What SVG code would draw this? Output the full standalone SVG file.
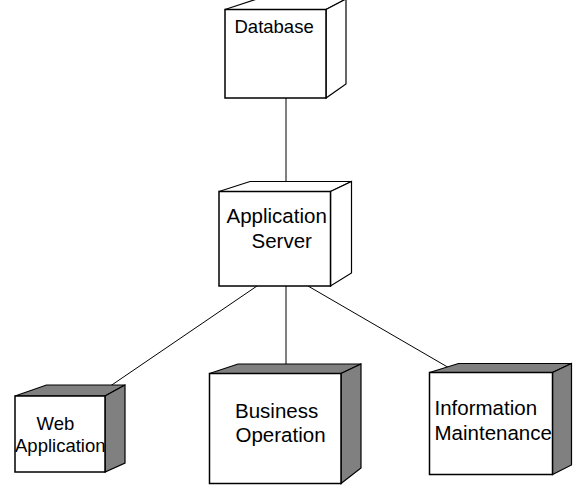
<svg xmlns="http://www.w3.org/2000/svg" width="573" height="486" viewBox="0 0 573 486">
<style>
.face{fill:#ffffff;stroke:#000000;stroke-width:1.5;stroke-linejoin:miter}
.shade{fill:#808080;stroke:#000000;stroke-width:1.2;stroke-linejoin:miter}
.plain{fill:#ffffff;stroke:#000000;stroke-width:1.2;stroke-linejoin:miter}
.conn{stroke:#000000;stroke-width:1;fill:none}
text{font-family:"Liberation Sans",Arial,sans-serif;fill:#000000}
.t20{font-size:20.5px}
.t18{font-size:18.5px}
</style>
<rect width="573" height="486" fill="#ffffff"/>
<g id="connectors">
<line class="conn" x1="286" y1="98" x2="286" y2="186"/>
<line class="conn" x1="286" y1="286" x2="286" y2="368"/>
<line class="conn" x1="257" y1="286" x2="101.5" y2="392"/>
<line class="conn" x1="308" y1="286" x2="451" y2="369"/>
</g>
<g id="database">
<polygon class="plain" points="225,9.5 257,-1 346,-1 326,9.5"/>
<polygon class="plain" points="326,9.5 346,-1 346,84 326,98"/>
<rect class="face" x="225" y="9.5" width="101" height="88.5"/>
<text class="t18" x="234.5" y="33">Database</text>
</g>
<g id="application-server">
<polygon class="plain" points="219,191.5 250,181.5 351.5,181.5 330.5,191.5"/>
<polygon class="plain" points="330.5,191.5 351.5,181.5 351.5,273 330.5,286"/>
<rect class="face" x="219" y="191.5" width="111.5" height="94.5"/>
<text class="t20" x="226.5" y="223">Application</text>
<text class="t20" x="251.5" y="248">Server</text>
</g>
<g id="web-application">
<polygon class="shade" points="15,396 46.5,385 125,385 105,396"/>
<polygon class="shade" points="105,396 125,385 125,463 105,472"/>
<rect class="face" x="15" y="396" width="90" height="76"/>
<text class="t18" x="36.5" y="430">Web</text>
<text class="t18" x="15" y="452">Application</text>
</g>
<g id="business-operation">
<polygon class="shade" points="209.5,373.5 238,364 361,364 341,373.5"/>
<polygon class="shade" points="341,373.5 361,364 361,468 341,483.5"/>
<rect class="face" x="209.5" y="373.5" width="131.5" height="110"/>
<text class="t20" x="235" y="418">Business</text>
<text class="t20" x="235.5" y="442">Operation</text>
</g>
<g id="information-maintenance">
<polygon class="shade" points="429.5,372.5 458.5,363.5 571.5,363.5 552.5,372.5"/>
<polygon class="shade" points="552.5,372.5 571.5,363.5 571.5,465 552.5,474.5"/>
<rect class="face" x="429.5" y="372.5" width="123" height="102"/>
<text class="t20" x="434.5" y="415">Information</text>
<text class="t20" x="434.5" y="440">Maintenance</text>
</g>
</svg>
